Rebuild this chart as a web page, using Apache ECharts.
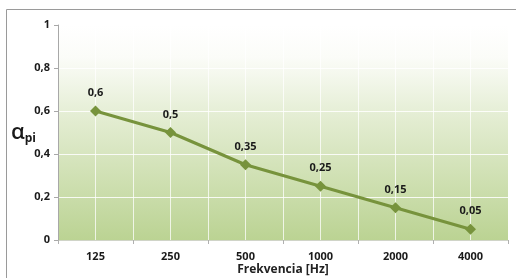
<!doctype html>
<html>
<head>
  <meta charset="utf-8">
  <title>Frekvencia</title>
  <script src="https://cdn.jsdelivr.net/npm/echarts@6/dist/echarts.min.js"></script>
  <style>
    html, body { margin: 0; padding: 0; background: #fff; }
    #chart { width: 516px; height: 278px; }
  </style>
</head>
<body>
  <div id="chart"></div>
  <script>
    // data
    const frequencies = ["125", "250", "500", "1000", "2000", "4000"];
    const alphaValues = [0.6, 0.5, 0.35, 0.25, 0.15, 0.05];
    const yTicks = [0, 0.2, 0.4, 0.6, 0.8, 1];

    const comma = v => String(v).replace(".", ",");
    const labelFont = { fontFamily: "Open Sans", fontWeight: "bold", fontSize: 11, color: "#1a1a1a" };

    const chart = echarts.init(document.getElementById("chart"));
    chart.setOption({
      animation: false,
      graphic: [{
        type: "polyline",
        shape: { points: [[6.5, 278], [6.5, 9.5], [516, 9.5]] },
        style: { stroke: "#9a9a9a", lineWidth: 1, fill: null }
      }],
      grid: {
        left: 58, right: 8, top: 25, bottom: 38,
        outerBoundsMode: "none",
        containLabel: false,
        show: true,
        borderWidth: 0,
        backgroundColor: new echarts.graphic.LinearGradient(0, 0, 0, 1, [
          { offset: 0, color: "#ffffff" },
          { offset: 0.15, color: "#fbfcf8" },
          { offset: 0.45, color: "#e2ecd0" },
          { offset: 1, color: "#bbd393" }
        ])
      },
      xAxis: [{
        type: "category",
        data: frequencies,
        boundaryGap: true,
        name: "Frekvencia [Hz]",
        nameLocation: "middle",
        nameGap: 24,
        nameMoveOverlap: false,
        nameTextStyle: { fontFamily: "Open Sans", fontWeight: "bold", fontSize: 12, color: "#222" },
        axisLine: { lineStyle: { color: "#d0d4c8" } },
        axisTick: { show: true, alignWithLabel: false, length: 4, lineStyle: { color: "#b0b0b0" } },
        axisLabel: Object.assign({ margin: 11 }, labelFont),
        splitLine: { show: false }
      }, {
        type: "value",
        min: 0, max: 12, interval: 1,
        show: true,
        position: "top",
        axisLine: { show: false },
        axisTick: { show: false },
        axisLabel: { show: false },
        splitLine: { show: true, lineStyle: { color: "rgba(255,255,255,0.75)", width: 1 } }
      }],
      yAxis: {
        type: "value",
        min: 0, max: 1, interval: 0.2,
        name: "{a|α}{s|pi}",
        nameLocation: "middle",
        nameRotate: 0,
        nameGap: 22,
        nameMoveOverlap: false,
        nameTextStyle: {
          rich: {
            a: { fontFamily: "Open Sans", fontWeight: 600, fontSize: 22, color: "#1a1a1a" },
            s: { fontFamily: "Open Sans", fontWeight: "bold", fontSize: 12, color: "#1a1a1a", verticalAlign: "bottom", padding: [12, 0, 0, 0] }
          }
        },
        axisLine: { show: true, lineStyle: { color: "#a8a8a8" } },
        axisTick: { show: true, length: 4, lineStyle: { color: "#a8a8a8" } },
        axisLabel: Object.assign({ margin: 8, formatter: v => comma(+v.toFixed(1)) }, labelFont),
        splitLine: { show: true, lineStyle: { color: "rgba(255,255,255,0.85)", width: 1 } }
      },
      series: [{
        type: "line",
        xAxisIndex: 0,
        data: alphaValues,
        symbol: "diamond",
        symbolSize: 11,
        lineStyle: { color: "#77933c", width: 3 },
        itemStyle: { color: "#77933c" },
        label: Object.assign({ show: true, position: "top", distance: 7, formatter: p => comma(p.value) }, labelFont)
      }]
    });
  </script>
</body>
</html>
